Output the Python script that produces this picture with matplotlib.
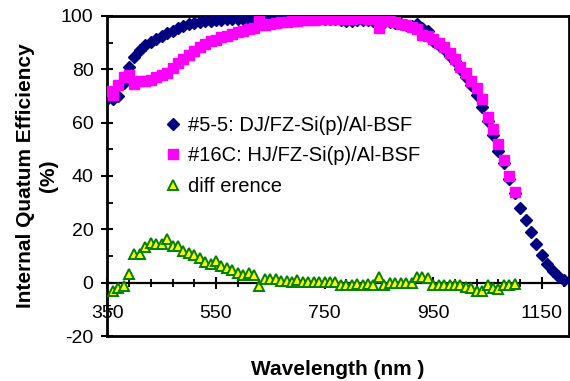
import matplotlib
matplotlib.use("Agg")
import matplotlib.pyplot as plt
from matplotlib.ticker import FixedLocator, MultipleLocator

plt.rcParams["font.family"] = ["Liberation Sans", "DejaVu Sans"]
plt.rcParams["axes.unicode_minus"] = False

# wavelength grids (nm)
wl_dj = list(range(350, 1200, 10))
wl_hj = list(range(350, 1110, 10))
wl_diff = list(range(360, 1110, 10))

# #5-5: DJ/FZ-Si(p)/Al-BSF
iqe_dj = [69, 68.7, 70, 75, 81, 84.5, 87.3, 89.2, 90.3, 91.2,
          92.3, 93.5, 94.5, 95.5, 96.2, 96.8, 97.3, 97.7, 98, 98.2,
          98.5, 98.6, 98.7, 98.8, 98.9, 99, 99, 99, 99.1, 99.1,
          99.2, 99.2, 99.2, 99.2, 99, 99, 99, 99, 99, 99,
          99, 99, 99, 98.3, 98.2, 98.2, 98.5, 98.3, 98.5, 98.2,
          97.6, 97.6, 97.8, 97.5, 97, 96.6, 96.3, 97, 95.5, 94.5,
          90.5, 89, 87.5, 85, 83, 80, 77, 74, 70.5, 66,
          60.5, 55.5, 49.5, 45, 39, 33.5, 28, 23.5, 19, 14.5,
          10.5, 7, 4.2, 2.5, 1]

# #16C: HJ/FZ-Si(p)/Al-BSF
iqe_hj = [72, 70.5, 74, 77, 78, 74.5, 75.5, 75.5, 76, 77,
          78, 78.5, 80.5, 82.5, 84, 85.5, 87, 88.5, 89.5, 90.5,
          91, 92, 92.5, 93.3, 94, 94.5, 95, 95.5, 99.5, 96.5,
          97, 97.3, 97.6, 97.8, 98, 98.2, 98.4, 98.5, 98.6, 98.7,
          98.8, 98.8, 98.9, 99, 99, 99, 99.3, 99.3, 99, 99,
          95.5, 98.5, 98, 97.7, 97, 96.5, 96, 95, 93, 92.5,
          91.5, 90, 88.5, 86, 84, 81, 78.5, 75.5, 73, 69,
          62, 57.5, 52, 46, 40, 34]

# difference
diff = [-3, -2, -1.3, 3.4, 10.6, 10.6, 13.4, 14.7, 14.6, 14.6,
        16.5, 13.8, 13.8, 12, 11, 10.2, 9.4, 7.8, 7, 8,
        6.2, 5.6, 4.6, 3.8, 3, 3.8, 3, -1.3, 1.3, 1.3,
        1.3, 0.6, 0.6, 0.2, 1, 0.3, 0.3, 0.3, 0.3, 0.3,
        0.3, 0.3, -1, -1, -1, -0.6, -1, -0.6, -1, 2,
        -1, -0.3, -0.3, -0.3, -0.3, -0.3, 2.3, 2.3, 1.9, -1,
        -1, -1, -1, -1, -1, -1.5, -1.9, -3.1, -3.1, -1,
        -1.9, -2.5, -1, -1, -0.6]

fig = plt.figure(figsize=(5.7, 3.81), dpi=100)
ax = fig.add_axes([0.1883, 0.1181, 0.810, 0.840])

ax.plot(wl_dj, iqe_dj, ls="none", marker="D", ms=5.8, color="#000080",
        mec="#000080", label="#5-5: DJ/FZ-Si(p)/Al-BSF", zorder=3)
ax.plot(wl_hj, iqe_hj, ls="none", marker="s", ms=7, color="#FF00FF",
        mec="#FF00FF", label="#16C: HJ/FZ-Si(p)/Al-BSF", zorder=4)
ax.plot(wl_diff, diff, ls="none", marker="^", ms=7, mfc="#FFFF00",
        mec="#008000", mew=1.4, label="diff erence", zorder=5)

ax.set_xlim(350, 1200)
ax.set_ylim(-20, 100)

# x axis sits on the zero line, frame closed at -20
ax.spines["bottom"].set_position(("data", 0))
ax.axhline(-20, color="k", lw=2, clip_on=False, zorder=2)
for s in ax.spines.values():
    s.set_linewidth(2)
ax.spines["bottom"].set_linewidth(1.6)

ax.xaxis.set_major_locator(FixedLocator([350, 550, 750, 950, 1150]))
ax.xaxis.set_minor_locator(FixedLocator(list(range(350, 1201, 40))))
ax.yaxis.set_major_locator(MultipleLocator(20))
ax.yaxis.set_minor_locator(MultipleLocator(10))

ax.tick_params(axis="x", which="major", direction="inout", length=9,
               width=1.5, labelsize=14, pad=11.5)
ax.tick_params(axis="x", which="minor", direction="inout", length=6,
               width=1.3)
ax.tick_params(axis="y", which="major", direction="inout", length=8,
               width=1.5, labelsize=14, pad=6)
ax.tick_params(axis="y", which="minor", direction="in", length=4,
               width=1.3)

ax.set_xlabel("Wavelength (nm )", fontsize=15, fontweight="bold")
ax.set_ylabel("Internal Quatum Efficiency\n(%)", fontsize=15,
              fontweight="bold", labelpad=2, linespacing=1.3)
ax.xaxis.set_label_coords(0.5, -0.075)

ax.legend(loc="center left", bbox_to_anchor=(0.123, 0.5625), frameon=False,
          fontsize=14.5, numpoints=1, handlelength=0.9, handletextpad=0.3,
          borderpad=0, borderaxespad=0, labelspacing=0.55)

fig.savefig("out.png", dpi=100)
